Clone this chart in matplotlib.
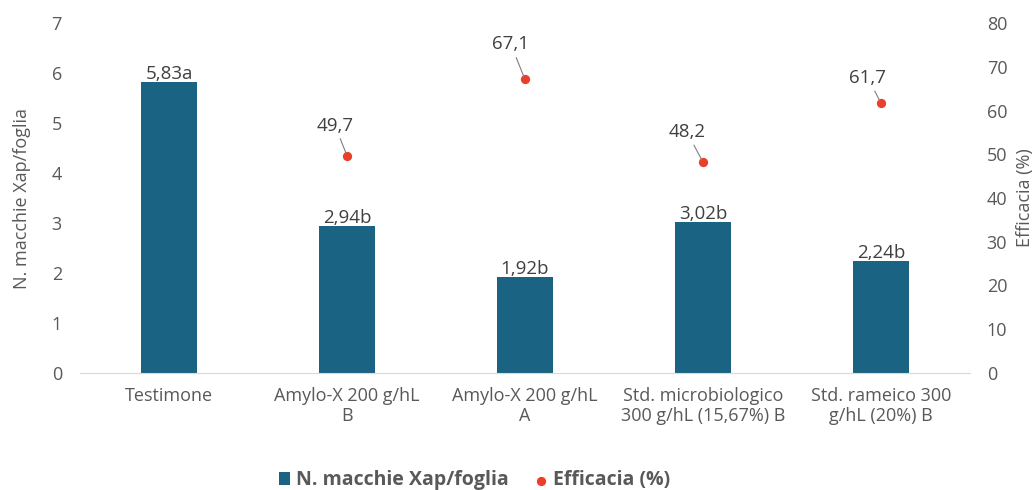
import matplotlib.pyplot as plt

plt.rcParams['font.family'] = ['Open Sans', 'DejaVu Sans']

categories = ['Testimone', 'Amylo-X 200 g/hL\nB', 'Amylo-X 200 g/hL\nA',
              'Std. microbiologico\n300 g/hL (15,67%) B', 'Std. rameico 300\ng/hL (20%) B']
macchie = [5.83, 2.94, 1.92, 3.02, 2.24]
lettere = ['a', 'b', 'b', 'b', 'b']
efficacia = [None, 49.7, 67.1, 48.2, 61.7]
# label offsets (pixels) for the efficacia data labels
offsets = [None, (-12, 21), (-14, 26), (-16, 21), (-13, 16)]

bar_col = '#1B6382'
dot_col = '#E8402A'
txt_col = '#595959'

fig = plt.figure(figsize=(10.33, 4.9), dpi=100)
ax = fig.add_axes([0.0774, 0.2388, 0.8616, 0.7142])
x = list(range(len(categories)))
bars = ax.bar(x, macchie, width=0.31, color=bar_col, label='N. macchie Xap/foglia', zorder=2)
for xi, v, l in zip(x, macchie, lettere):
    ax.text(xi, v - 0.02, f'{v:.2f}'.replace('.', ',') + l, ha='center', va='bottom',
            fontsize=13.5, color='#404040')

ax.set_xlim(-0.5, len(categories) - 0.5)
ax.set_ylim(0, 7)
ax.set_yticks(range(8))
ax.set_xticks(x)
ax.set_xticklabels(categories, linespacing=1.15)
ax.set_ylabel('N. macchie Xap/foglia', fontsize=13, color=txt_col, labelpad=15)
for s in ['top', 'right', 'left']:
    ax.spines[s].set_visible(False)
ax.spines['bottom'].set_color('#D9D9D9')
ax.tick_params(axis='both', length=0, labelsize=13, colors=txt_col, pad=10)
ax.tick_params(axis='y', pad=13)

ax2 = ax.twinx()
ax2.set_ylim(0, 80)
ax2.set_yticks(range(0, 81, 10))
for s in ax2.spines.values():
    s.set_visible(False)
ax2.tick_params(axis='y', length=0, labelsize=13, colors=txt_col, pad=12)
ax2.set_ylabel('Efficacia (%)', fontsize=13, color=txt_col, labelpad=6)

ex = [xi for xi, e in zip(x, efficacia) if e is not None]
ey = [e for e in efficacia if e is not None]
ax2.scatter(ex, ey, s=32, color=dot_col, label='Efficacia (%)', zorder=3)
for xi, e, off in zip(x, efficacia, offsets):
    if e is None:
        continue
    ax2.annotate(f'{e:.1f}'.replace('.', ','), (xi, e), xytext=off, textcoords='offset pixels',
                 ha='center', va='bottom', fontsize=13.5, color='#404040',
                 arrowprops=dict(arrowstyle='-', color='#7F7F7F', lw=0.8, shrinkA=1, shrinkB=2))

h1, l1 = ax.get_legend_handles_labels()
h2, l2 = ax2.get_legend_handles_labels()
leg = fig.legend(h1 + h2, l1 + l2, loc='center', bbox_to_anchor=(0.459, 0.02), ncol=2,
                 frameon=False, handlelength=0.6, handleheight=0.6, handletextpad=0.3,
                 columnspacing=1.35, prop={'weight': 'bold', 'size': 14})
for t in leg.get_texts():
    t.set_color(txt_col)

fig.savefig('out.png', dpi=100)
